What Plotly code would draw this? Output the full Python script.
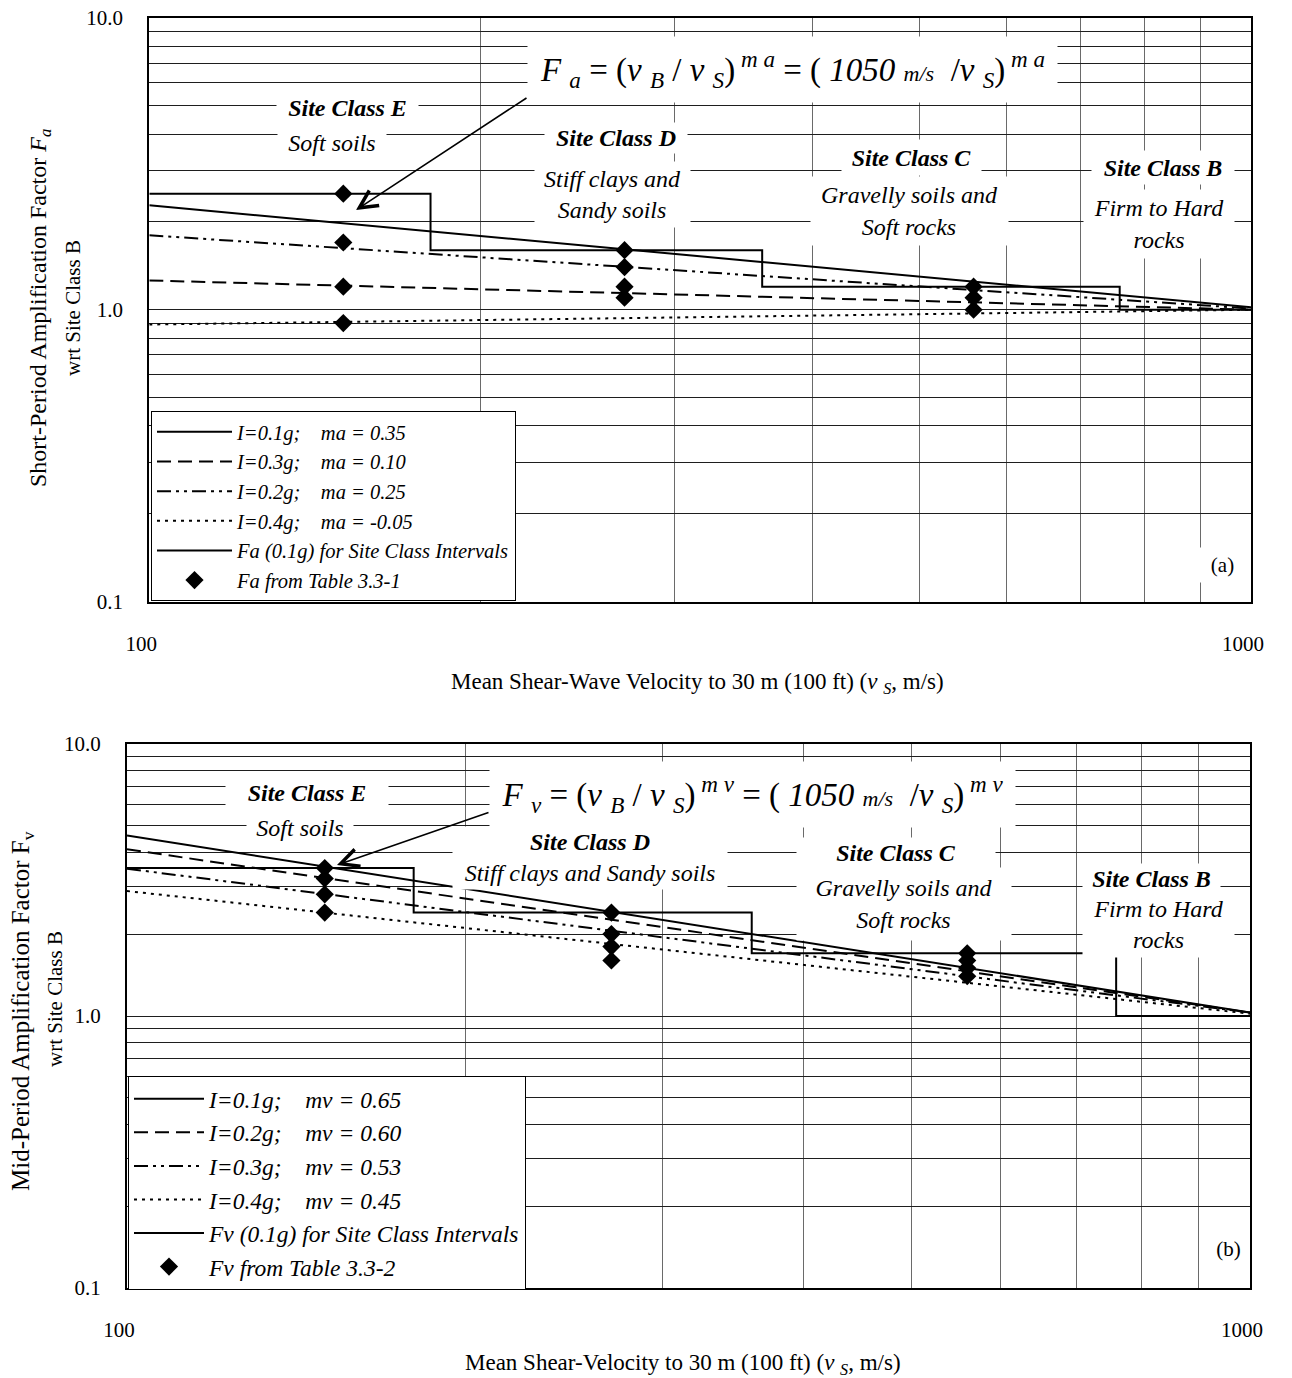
import plotly.graph_objects as go

W, H = 1292, 1378
SERIF = "Liberation Serif, Times New Roman, Times, serif"

# ---------------------------------------------------------------------------
# Data
# ---------------------------------------------------------------------------
# End points (m/s) of the straight log-log power-law curves
vs_curve = [100, 1000]

# Short-period factor Fa = (1050 m/s / vs)^ma at the curve end points
fa_01g = [2.28, 1.02]   # ma = 0.35
fa_03g = [1.26, 1.00]   # ma = 0.10
fa_02g = [1.80, 1.01]   # ma = 0.25
fa_04g = [0.89, 1.00]   # ma = -0.05

# Mid-period factor Fv = (1050 m/s / vs)^mv at the curve end points
fv_01g = [4.61, 1.03]   # mv = 0.65
fv_02g = [4.10, 1.03]   # mv = 0.60
fv_03g = [3.48, 1.03]   # mv = 0.53
fv_04g = [2.88, 1.02]   # mv = 0.45

# Site class boundaries (m/s) with the 0.1g factor held over each interval
class_bounds = [100, 180, 360, 760, 1000]
fa_step = [2.5, 1.6, 1.2, 1.0, 1.0]
fv_step = [3.5, 2.4, 1.7, 1.0, 1.0]

# Tabulated factors placed at representative velocities of classes E, D, C
table_vs_a = [150, 150, 150, 150, 270, 270, 270, 270, 560, 560, 560]
fa_table = [2.5, 1.7, 1.2, 0.9, 1.6, 1.4, 1.2, 1.1, 1.2, 1.1, 1.0]
table_vs_v = [150, 150, 150, 150, 270, 270, 270, 270, 560, 560, 560, 560]
fv_table = [3.5, 3.2, 2.8, 2.4, 2.4, 2.0, 1.8, 1.6, 1.7, 1.6, 1.5, 1.4]

# Axis ticks (every decade digit carries a grid line, only decades are labelled)
x_tick_vals = [100, 200, 300, 400, 500, 600, 700, 800, 900, 1000]
x_tick_text = ["100", "", "", "", "", "", "", "", "", "1000"]
y_tick_vals = [0.1, 0.2, 0.3, 0.4, 0.5, 0.6, 0.7, 0.8, 0.9,
               1, 2, 3, 4, 5, 6, 7, 8, 9, 10]
y_tick_text = ["0.1"] + [""] * 8 + ["1.0"] + [""] * 8 + ["10.0"]

SP = "\u00a0\u00a0\u00a0\u00a0"
names_a = [f"I=0.1g;{SP}ma = 0.35", f"I=0.3g;{SP}ma = 0.10",
           f"I=0.2g;{SP}ma = 0.25", f"I=0.4g;{SP}ma = -0.05",
           "Fa (0.1g) for Site Class Intervals", "Fa from Table 3.3-1"]
names_b = [f"I=0.1g;{SP}mv = 0.65", f"I=0.2g;{SP}mv = 0.60",
           f"I=0.3g;{SP}mv = 0.53", f"I=0.4g;{SP}mv = 0.45",
           "Fv (0.1g) for Site Class Intervals", "Fv from Table 3.3-2"]

# Line patterns: solid, long dash, dash-dot-dot, dotted
DASHES = ["solid", "14px,7px", "14px,5px,3px,5px,3px,5px", "3px,5px"]


def px(x):
    return x / W


def py(y):
    return 1 - y / H


fig = go.Figure()


def add_panel(xa, ya, legend, curves, step_vals, tab_vs, tab_vals, names):
    for vals, dash, name in zip(curves, DASHES, names[:4]):
        fig.add_trace(go.Scatter(
            x=vs_curve, y=vals, mode="lines", name=name,
            line=dict(color="black", width=2, dash=dash),
            xaxis=xa, yaxis=ya, legend=legend, legendgroup=name))
    fig.add_trace(go.Scatter(
        x=class_bounds, y=step_vals, mode="lines", name=names[4],
        line=dict(color="black", width=2, shape="hv"),
        xaxis=xa, yaxis=ya, legend=legend, legendgroup=names[4]))
    fig.add_trace(go.Scatter(
        x=tab_vs, y=tab_vals, mode="markers", name=names[5],
        marker=dict(symbol="diamond", size=14, color="black"),
        xaxis=xa, yaxis=ya, legend=legend, legendgroup=names[5]))


add_panel("x", "y", "legend", [fa_01g, fa_03g, fa_02g, fa_04g],
          fa_step, table_vs_a, fa_table, names_a)
add_panel("x2", "y2", "legend2", [fv_01g, fv_02g, fv_03g, fv_04g],
          fv_step, table_vs_v, fv_table, names_b)

axis_common = dict(
    type="log", showline=True, linecolor="black", linewidth=2, mirror=True,
    ticks="", showgrid=True, zeroline=False, automargin=False,
    tickfont=dict(family=SERIF, size=21, color="black"),
)
xaxis_common = dict(axis_common, range=[2, 3], tickvals=x_tick_vals,
                    ticktext=x_tick_text, gridcolor="#6a6a6a", gridwidth=1,
                    ticklabelstandoff=22, ticklabelshift=-8)
yaxis_common = dict(axis_common, range=[-1, 1], tickvals=y_tick_vals,
                    ticktext=y_tick_text, gridcolor="#1e1e1e", gridwidth=1,
                    ticklabelstandoff=20)

legend_common = dict(bgcolor="white", bordercolor="black", borderwidth=1,
                     xanchor="left", yanchor="top",
                     tracegroupgap=0, traceorder="normal")

fig.update_layout(
    width=W, height=H, autosize=False,
    margin=dict(l=0, r=0, t=0, b=0, pad=0, autoexpand=False),
    paper_bgcolor="white", plot_bgcolor="white",
    font=dict(family=SERIF, color="black"),
    xaxis=dict(xaxis_common, domain=[px(149.3), px(1251)], anchor="y"),
    yaxis=dict(yaxis_common, domain=[py(601.5), py(18)], anchor="x"),
    xaxis2=dict(xaxis_common, domain=[px(127), px(1250)], anchor="y2"),
    yaxis2=dict(yaxis_common, domain=[py(1288), py(744)], anchor="x2"),
    legend=dict(legend_common, x=px(151), y=py(411), itemwidth=75,
                font=dict(family=SERIF, size=20.5, style="italic", color="black")),
    legend2=dict(legend_common, x=px(128), y=py(1076), itemwidth=70,
                 font=dict(family=SERIF, size=23.5, style="italic", color="black")),
)

annotations = []


def box(x0, x1, y0, y1, text, size=24, bold=False, italic=True):
    if italic:
        text = f"<i>{text}</i>"
    if bold:
        text = f"<b>{text}</b>"
    annotations.append(dict(
        xref="paper", yref="paper", x=px((x0 + x1) / 2), y=py((y0 + y1) / 2),
        xanchor="center", yanchor="middle", width=x1 - x0, height=y1 - y0,
        text=text, showarrow=False, bgcolor="white", borderpad=0,
        font=dict(family=SERIF, size=size, color="black"), align="center",
        valign="middle"))


def arrow(tail, head):
    # arrow from the formula box down to the curves (offsets in pixels)
    annotations.append(dict(
        xref="paper", yref="paper", axref="pixel", ayref="pixel",
        x=px(head[0]), y=py(head[1]),
        ax=tail[0] - head[0], ay=tail[1] - head[1],
        text="", showarrow=True, arrowhead=5, arrowsize=2.2, arrowwidth=1.6,
        arrowcolor="black"))


def plain(x, y, text, size=23, angle=0):
    annotations.append(dict(
        xref="paper", yref="paper", x=px(x), y=py(y), xanchor="center",
        yanchor="middle", text=text, showarrow=False, textangle=angle,
        font=dict(family=SERIF, size=size, color="black")))


def formula(sym):
    return (f"<i>F</i> <sub><i>{sym}</i></sub> = (<i>v</i> <sub><i>B</i></sub> / "
            f"<i>v</i> <sub><i>S</i></sub>)<sup> <i>m</i> <i>{sym}</i></sup> = "
            f"( <i>1050</i> <span style='font-size:22px'><i>m/s</i></span>"
            f"\u00a0 /<i>v</i> <sub><i>S</i></sub>)<sup> <i>m</i> <i>{sym}</i></sup>")


# ---- panel (a) labels ----
box(528, 1057, 37, 102, formula("a"), size=33, italic=False)
arrow((528, 97), (356, 210))
box(277, 418, 93, 123, "Site Class E", bold=True)
box(278, 386, 128, 158, "Soft soils")
box(545, 687, 123, 153, "Site Class D", bold=True)
box(535, 690, 162, 227, "Stiff clays and<br>Sandy soils")
box(842, 981, 140, 175, "Site Class C", bold=True)
box(811, 1008, 177, 245, "Gravelly soils and<br>Soft rocks")
box(1092, 1234, 151, 184, "Site Class B", bold=True)
box(1084, 1234, 190, 258, "Firm to Hard<br>rocks")
box(1200, 1245, 548, 582, "(a)", size=21, italic=False)

# ---- panel (b) labels ----
box(490, 1015, 762, 827, formula("v"), size=33, italic=False)
arrow((490, 812), (337, 865))
box(226, 388, 778, 808, "Site Class E", bold=True)
box(247, 353, 814, 842, "Soft soils")
box(453, 727, 827, 856, "Site Class D", bold=True)
box(453, 727, 856, 889, "Stiff clays and Sandy soils")
box(797, 995, 838, 868, "Site Class C", bold=True)
box(797, 1011, 868, 940, "Gravelly soils and<br>Soft rocks")
box(1083, 1220, 864, 894, "Site Class B", bold=True)
box(1083, 1234, 892, 957, "Firm to Hard<br>rocks")
box(1212, 1245, 1232, 1266, "(b)", size=21, italic=False)

# ---- axis titles ----
plain(697, 683, "Mean Shear-Wave Velocity to 30 m (100 ft) "
      "(<i>v</i> <sub><i>S</i></sub>, m/s)")
plain(683, 1364, "Mean Shear-Velocity to 30 m (100 ft) "
      "(<i>v</i> <sub><i>S</i></sub>, m/s)")
plain(40, 308, "Short-Period Amplification Factor <i>F<sub>a</sub></i>",
      size=24, angle=-90)
plain(73, 308, "wrt Site Class B", size=21, angle=-90)
plain(22, 1011, "Mid-Period Amplification Factor F<sub>v</sub>",
      size=25, angle=-90)
plain(55, 999, "wrt Site Class B", size=21, angle=-90)

fig.update_layout(annotations=annotations)

fig.write_html("out.html", config={"displayModeBar": False})
